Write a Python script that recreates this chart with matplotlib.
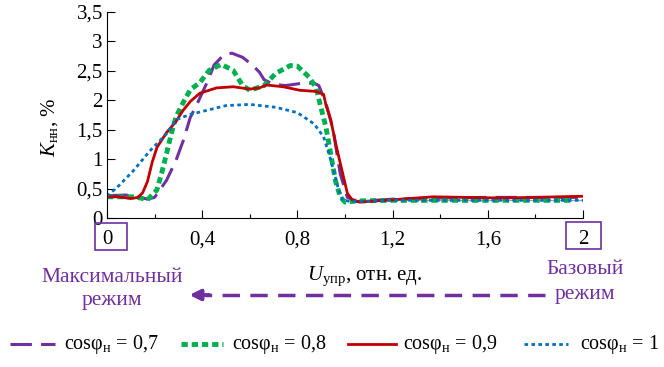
import matplotlib
matplotlib.use('Agg')
import matplotlib.pyplot as plt
from matplotlib.lines import Line2D
from matplotlib.patches import Rectangle

plt.rcParams['font.family'] = ['Liberation Serif', 'DejaVu Serif']
plt.rcParams['mathtext.fontset'] = 'custom'
plt.rcParams['mathtext.rm'] = 'Liberation Serif'
plt.rcParams['mathtext.it'] = 'Liberation Serif:italic'

# cos phi = 0.7
x07 = [0, 0.08, 0.13, 0.17, 0.20, 0.25, 0.29, 0.32, 0.35, 0.38, 0.42, 0.45, 0.49, 0.525,
       0.57, 0.61, 0.64, 0.66, 0.70, 0.75, 0.82, 0.87, 0.89, 0.92, 0.95, 0.98, 1.01,
       1.05, 1.2, 1.4, 1.6, 1.8, 2.0]
y07 = [0.38, 0.39, 0.36, 0.32, 0.35, 0.64, 0.98, 1.31, 1.71, 1.95, 2.30, 2.60, 2.77, 2.80,
       2.73, 2.60, 2.48, 2.35, 2.27, 2.25, 2.29, 2.29, 2.25, 1.95, 1.50, 0.75, 0.35,
       0.28, 0.32, 0.34, 0.35, 0.35, 0.35]
# cos phi = 0.8
x08 = [0, 0.05, 0.11, 0.14, 0.17, 0.21, 0.23, 0.25, 0.27, 0.29, 0.32, 0.35, 0.39, 0.43,
       0.48, 0.53, 0.57, 0.60, 0.66, 0.71, 0.77, 0.80, 0.85, 0.88, 0.895, 0.92, 0.94,
       0.96, 0.98, 1.0, 1.05, 1.2, 1.4, 1.6, 1.8, 1.96]
y08 = [0.36, 0.36, 0.36, 0.34, 0.31, 0.48, 0.77, 1.09, 1.43, 1.72, 1.96, 2.18, 2.30, 2.51,
       2.61, 2.51, 2.25, 2.17, 2.25, 2.46, 2.59, 2.58, 2.39, 2.20, 1.94, 1.54, 1.09,
       0.63, 0.36, 0.27, 0.29, 0.30, 0.30, 0.30, 0.30, 0.30]
# cos phi = 0.9
x09 = [0, 0.05, 0.10, 0.13, 0.15, 0.17, 0.19, 0.21, 0.25, 0.29, 0.32, 0.35, 0.39, 0.46,
       0.53, 0.60, 0.64, 0.67, 0.74, 0.81, 0.88, 0.91, 0.92, 0.94, 0.96, 0.99, 1.01,
       1.03, 1.06, 1.2, 1.37, 1.65, 1.8, 2.0]
y09 = [0.36, 0.36, 0.33, 0.35, 0.43, 0.62, 0.95, 1.20, 1.45, 1.64, 1.83, 1.98, 2.12, 2.21,
       2.23, 2.19, 2.21, 2.26, 2.23, 2.17, 2.15, 2.10, 1.92, 1.67, 1.28, 0.76, 0.42,
       0.31, 0.27, 0.31, 0.36, 0.34, 0.35, 0.37]
# cos phi = 1
x10 = [0, 0.05, 0.11, 0.18, 0.25, 0.29, 0.35, 0.43, 0.50, 0.60, 0.71, 0.80, 0.87, 0.91,
       0.94, 0.97, 0.99, 1.03, 1.2, 1.4, 1.6, 1.8, 2.0]
y10 = [0.37, 0.55, 0.80, 1.14, 1.43, 1.67, 1.76, 1.84, 1.91, 1.93, 1.88, 1.79, 1.60, 1.38,
       0.99, 0.53, 0.30, 0.28, 0.30, 0.30, 0.30, 0.30, 0.30]
base_level = 0.31
base_span = [1.05, 2.0]

xticks = [0, 0.4, 0.8, 1.2, 1.6, 2]
xtick_labels = ['0', '0,4', '0,8', '1,2', '1,6', '2']
yticks = [0, 0.5, 1, 1.5, 2, 2.5, 3, 3.5]
ytick_labels = ['0', '0,5', '1', '1,5', '2', '2,5', '3', '3,5']
labels = ['cosφ$_\\mathrm{н}$ = 0,7', 'cosφ$_\\mathrm{н}$ = 0,8',
          'cosφ$_\\mathrm{н}$ = 0,9', 'cosφ$_\\mathrm{н}$ = 1']

PURPLE = '#7030A0'
GREEN = '#00B050'
RED = '#C00000'
BLUE = '#0070C0'

W, H = 664, 367
fig = plt.figure(figsize=(W / 100, H / 100), dpi=100)
ax = fig.add_axes([107 / W, 1 - 218 / H, 476 / W, 206 / H])

ax.hlines(base_level, base_span[0], base_span[1], color='#a0a0a0', lw=0.8)
styles = [dict(color=PURPLE, lw=2.2, ls=(0, (7, 3))),
          dict(color=GREEN, lw=3.5, ls=(0, (1.3, 0.8))),
          dict(color=RED, lw=2.0, ls='-'),
          dict(color=BLUE, lw=2.0, ls=(0, (1.3, 1.2)))]
for xs, ys, st in zip([x07, x08, x09, x10], [y07, y08, y09, y10], styles):
    ax.plot(xs, ys, **st)

ax.set_xlim(0, 2)
ax.set_ylim(0, 3.5)
ax.set_xticks(xticks)
ax.set_xticklabels(xtick_labels)
ax.set_xticks([0.2, 0.6, 1.0, 1.4, 1.8], minor=True)
ax.set_yticks(yticks)
ax.set_yticklabels(ytick_labels)
ax.tick_params(axis='both', direction='in', labelsize=15, length=6, width=0.8)
ax.tick_params(axis='x', which='minor', direction='in', length=3, width=0.8)
ax.tick_params(axis='x', pad=9)
ax.tick_params(axis='y', pad=3)
for s in ['top', 'right']:
    ax.spines[s].set_visible(False)

fig.text(50 / W, 1 - 127 / H, '$K_\\mathrm{нн}$, %', rotation=90, fontsize=15,
         ha='center', va='center')
fig.text(365 / W, 1 - 276 / H, '$U_\\mathrm{упр}$, отн. ед.', fontsize=15,
         ha='center', va='center')

# boxes round 0 and 2
fig.add_artist(Rectangle((95 / W, 1 - 250 / H), 32 / W, 27 / H, transform=fig.transFigure,
                         fill=False, ec=PURPLE, lw=1.2))
fig.add_artist(Rectangle((566 / W, 1 - 249 / H), 35 / W, 27 / H, transform=fig.transFigure,
                         fill=False, ec=PURPLE, lw=1.2))

fig.text(112 / W, 1 - 278 / H, 'Максимальный', color=PURPLE, fontsize=15.5,
         ha='center', va='center')
fig.text(112 / W, 1 - 301 / H, 'режим', color=PURPLE, fontsize=15.5,
         ha='center', va='center')
fig.text(585 / W, 1 - 270 / H, 'Базовый', color=PURPLE, fontsize=15.5,
         ha='center', va='center')
fig.text(585 / W, 1 - 295 / H, 'режим', color=PURPLE, fontsize=15.5,
         ha='center', va='center')

fig.add_artist(Line2D([545 / W, 205 / W], [1 - 295 / H, 1 - 295 / H],
                      transform=fig.transFigure, color=PURPLE, lw=2.5,
                      ls=(0, (5, 3))))
fig.add_artist(plt.annotate('', xy=(187 / W, 1 - 295 / H), xytext=(212 / W, 1 - 295 / H),
                            xycoords='figure fraction',
                            arrowprops=dict(arrowstyle='-|>', color=PURPLE, lw=2.5,
                                            mutation_scale=16)))

# legend row drawn by hand: handle start/end and text start, in pixels
leg_y = 1 - 344 / H
handle_px = [(10, 55), (181, 223), (348, 396), (524, 568)]
text_px = [64, 232, 403, 580]
for (a, b), tx, lab, st in zip(handle_px, text_px, labels, styles):
    fig.add_artist(Line2D([a / W, b / W], [leg_y, leg_y], transform=fig.transFigure, **st))
    fig.text(tx / W, leg_y, lab, fontsize=14.5, ha='left', va='center')

fig.savefig('out.png', dpi=100)
